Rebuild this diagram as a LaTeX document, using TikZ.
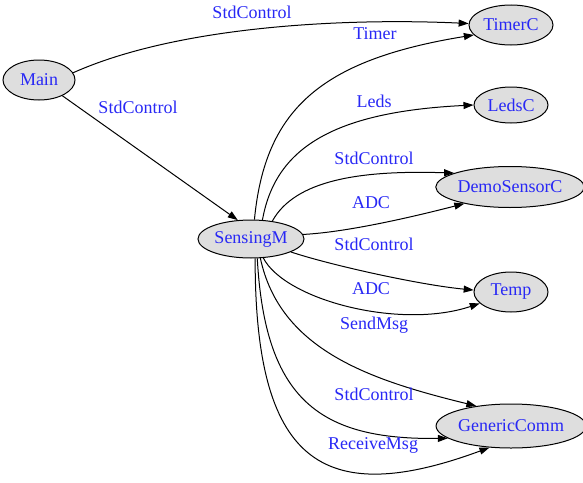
\documentclass[tikz,border=0pt]{standalone}
\usepackage{fontspec}
\setmainfont{Liberation Serif}
\usetikzlibrary{shapes.geometric,arrows.meta}
\definecolor{lbl}{RGB}{40,40,245}
\definecolor{nfill}{RGB}{222,222,222}
\tikzset{
  comp/.style={ellipse,draw=black,line width=0.5pt,fill=nfill,inner sep=0pt,text=lbl,font=\fontsize{9}{10}\selectfont},
  edge/.style={draw=black,line width=0.5pt,-{Triangle[length=5pt,width=3.5pt]}},
  elabel/.style={text=lbl,inner sep=0pt,font=\fontsize{9}{10}\selectfont}
}
\begin{document}
\begin{tikzpicture}[x=0.5pt,y=-0.5pt]
\useasboundingbox (0,0) rectangle (583,482);
\node[comp,minimum width=36pt,minimum height=20pt] (Main) at (39,80) {Main};
\node[comp,minimum width=42pt,minimum height=20pt] (TimerC) at (511,25) {TimerC};
\node[comp,minimum width=37pt,minimum height=18pt] (LedsC) at (511,105) {LedsC};
\node[comp,minimum width=67pt,minimum height=20.5pt] (Demo) at (510,187) {DemoSensorC};
\node[comp,minimum width=53pt,minimum height=19pt] (SensingM) at (251,239) {SensingM};
\node[comp,minimum width=37pt,minimum height=20pt] (Temp) at (511,292) {Temp};
\node[comp,minimum width=67pt,minimum height=22pt] (GC) at (511,426) {GenericComm};

% Main edges
\draw[edge] (Main.12) .. controls (180,25) and (350,18) .. (TimerC.178);
\draw[edge] (Main.326) -- (SensingM.125);
% SensingM edges
\draw[edge] (SensingM.80) .. controls (265,110) and (320,60) .. (TimerC.195);
\draw[edge] (SensingM.59) .. controls (275,150) and (330,112) .. (LedsC.180);
\draw[edge] (SensingM.40) .. controls (295,180) and (360,170) .. (Demo.166);
\draw[edge] (SensingM.5) .. controls (350,232) and (420,215) .. (Demo.200);
\draw[edge] (SensingM.342) .. controls (330,265) and (420,285) .. (Temp.177);
\draw[edge] (SensingM.303) .. controls (285,300) and (400,330) .. (Temp.200);
\draw[edge] (SensingM.296) .. controls (280,350) and (370,380) .. (GC.150);
\draw[edge] (SensingM.288) .. controls (265,400) and (320,440) .. (GC.191);
\draw[edge] (SensingM.282) .. controls (255,460) and (320,510) .. (GC.225);

% labels
\node[elabel] (l1) at (252,12) {StdControl};
\node[elabel] (l2) at (138,107) {StdControl};
\node[elabel] (l3) at (375,34) {Timer};
\node[elabel] (l4) at (374,101) {Leds};
\node[elabel] (l5) at (374,158) {StdControl};
\node[elabel] (l6) at (371,203) {ADC};
\node[elabel] (l7) at (374,244) {StdControl};
\node[elabel] (l8) at (371,289) {ADC};
\node[elabel] (l9) at (374,325) {SendMsg};
\node[elabel] (l10) at (374,394) {StdControl};
\node[elabel] (l11) at (373,445) {ReceiveMsg};
\end{tikzpicture}
\end{document}
